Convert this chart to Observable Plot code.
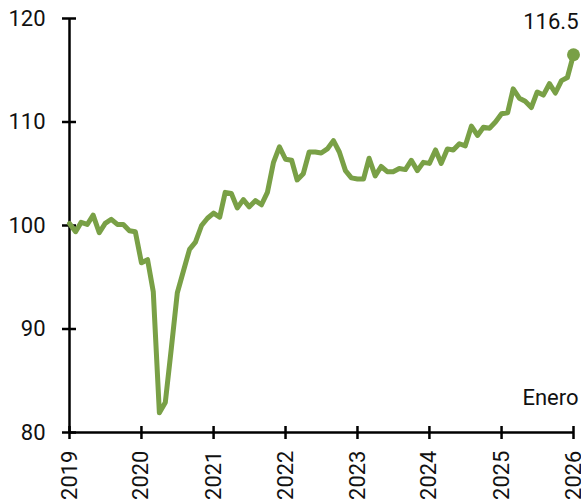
<!DOCTYPE html>
<html><head><meta charset="utf-8">
<script src="https://cdn.jsdelivr.net/npm/d3@7"></script>
<script src="https://cdn.jsdelivr.net/npm/@observablehq/plot@0.6"></script>
<style>body{margin:0;background:#fff}</style>
</head><body><div id="chart"></div>
<script>
// Monthly index, Jan 2019 – Jan 2026
const values = [
  100.2, 99.4, 100.3, 100.1, 101.0, 99.3, 100.2, 100.6, 100.1, 100.1, 99.5, 99.4, // 2019
  96.4, 96.7, 93.6, 81.9, 82.9, 88.2, 93.5, 95.6, 97.7, 98.4, 100.0, 100.7,       // 2020
  101.2, 100.8, 103.2, 103.1, 101.7, 102.5, 101.8, 102.4, 102.0, 103.2, 106.1, 107.6, // 2021
  106.4, 106.3, 104.4, 105.0, 107.1, 107.1, 107.0, 107.4, 108.2, 107.1, 105.3, 104.6, // 2022
  104.5, 104.5, 106.5, 104.8, 105.7, 105.2, 105.2, 105.5, 105.4, 106.3, 105.3, 106.1, // 2023
  106.0, 107.3, 106.0, 107.4, 107.3, 107.9, 107.7, 109.6, 108.7, 109.5, 109.4, 110.0, // 2024
  110.8, 110.9, 113.2, 112.3, 112.0, 111.4, 112.9, 112.6, 113.7, 112.8, 114.0, 114.3, // 2025
  116.5 // Jan 2026
];
const tickYears = [2019, 2020, 2021, 2022, 2023, 2024, 2025, 2026];
const yTicks = [80, 90, 100, 110, 120];
const endLabel = "Enero";
const color = "#79a046";

const start = new Date(Date.UTC(2019, 0, 1));
const dates = d3.utcMonth.range(start, d3.utcMonth.offset(start, values.length));
const data = values.map((v, i) => ({date: dates[i], value: v}));
const last = data[data.length - 1];
const tickDates = tickYears.map(y => new Date(Date.UTC(y, 0, 1)));

const chart = Plot.plot({
  width: 581, height: 504,
  marginLeft: 69, marginRight: 8, marginTop: 18, marginBottom: 72,
  style: {fontFamily: "Roboto", fontSize: "22px", color: "#111", background: "#fff"},
  x: {type: "utc", domain: [dates[0], dates[dates.length - 1]]},
  y: {domain: [80, 120]},
  marks: [
    Plot.axisY({ticks: yTicks, tickSize: 14, dx: 7, text: null, label: null, strokeWidth: 2.5, stroke: "#000"}),
    Plot.axisY({ticks: yTicks, tickSize: 0, tickPadding: 24, label: null, fontSize: 22, fill: "#111"}),
    Plot.axisX({ticks: tickDates, tickSize: 13, dy: -6, text: null, label: null, strokeWidth: 2.5, stroke: "#000"}),
    Plot.axisX({ticks: tickDates, tickSize: 0, tickPadding: 18, tickRotate: -90, tickFormat: "%Y", label: null, fontSize: 22, fill: "#111"}),
    Plot.ruleX([dates[0]], {stroke: "#000", strokeWidth: 2.5}),
    Plot.ruleY([80], {stroke: "#000", strokeWidth: 2.5}),
    Plot.line(data, {x: "date", y: "value", stroke: color, strokeWidth: 5, strokeLinejoin: "round", strokeLinecap: "round"}),
    Plot.dot([last], {x: "date", y: "value", r: 6.5, fill: color}),
    Plot.text([last], {x: "date", y: "value", text: d => d.value.toFixed(1), dy: -33, dx: 5, textAnchor: "end", fontSize: 22, fill: "#111"}),
    Plot.text([endLabel], {frameAnchor: "bottom-right", text: d => d, dx: 5, dy: -28, lineAnchor: "bottom", textAnchor: "end", fontSize: 22, fill: "#111"})
  ]
});
document.getElementById("chart").append(chart);
</script>
</body></html>
